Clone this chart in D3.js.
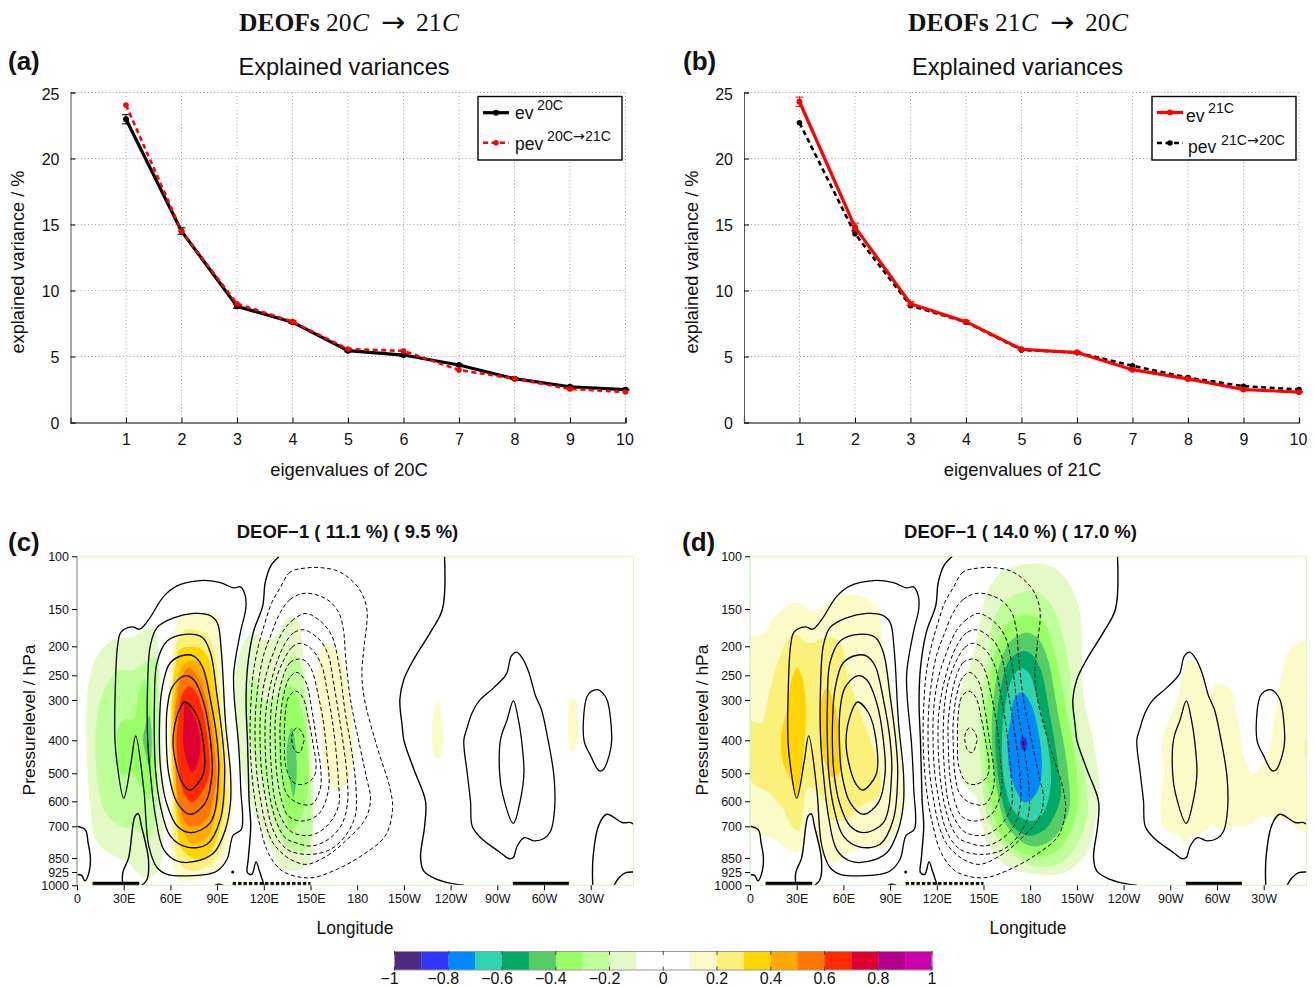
<!DOCTYPE html>
<html>
<head>
<meta charset="utf-8">
<script src="https://cdn.jsdelivr.net/npm/d3@7"></script>
<style>
  body { margin: 0; background: #fff; }
  text { font-family: "Liberation Sans", Arial, sans-serif; fill: #111; }
  text.serif { font-family: "Liberation Serif", serif; }
  tspan.arrow, text.arrow { font-family: "DejaVu Sans", sans-serif; }
</style>
</head>
<body>
<svg id="chart" width="1314" height="987"></svg>
<script>
// ---- explained variances
const eigenIndex = [1,2,3,4,5,6,7,8,9,10];
const ev20 = [22.97,14.5,8.8,7.6,5.44,5.11,4.36,3.32,2.71,2.49];
const pev20to21 = [24.05,14.5,9.0,7.64,5.57,5.42,3.98,3.32,2.54,2.31];
const err20 = [0.35,0.25,0.15,0.1,0.08,0.08,0.06,0.05,0.05,0.04];
const ev21 = [24.3,14.8,9.0,7.64,5.55,5.3,4.0,3.3,2.5,2.3];
const pev21to20 = [22.7,14.3,8.85,7.6,5.5,5.3,4.3,3.4,2.75,2.5];
const err21 = [0.35,0.3,0.15,0.1,0.08,0.08,0.06,0.05,0.05,0.04];
const varTicks = [0,5,10,15,20,25];

// ---- section axes
const pressureLevels = [100,150,200,250,300,400,500,600,700,850,925,1000];
const lonTicks = [0,30,60,90,120,150,180,210,240,270,300,330];
const lonLabels = ['0','30E','60E','90E','120E','150E','180','150W','120W','90W','60W','30W'];

// ---- colour bar
const barColors = ['#4f2a84','#3333ff','#0088ff','#30d5ab','#00aa66','#55cc66','#99ff66','#bfff99','#e4f9c6','#ffffff',
                   '#ffffff','#fbfbc8','#fbf07a','#ffd400','#ffaa00','#ff7700','#ff2a00','#dd0033','#b30090','#cc00aa'];
const barTicks = [-1,-0.8,-0.6,-0.4,-0.2,0,0.2,0.4,0.6,0.8,1];

// ---- mean field contours, [lon, hPa], same in (c) and (d)
const posClosed = [
  [[69,305],[64.3,340],[61.7,400],[63.4,468],[68.1,539],[72.4,560],[81,504],[81,400],[76,331]],
  [[69,251],[61,275],[57.9,323],[57.4,400],[58.9,500],[64.3,605],[72.9,652],[82.5,605],[86.8,500],[85.7,400],[81.4,307],[75,259]],
  [[69.6,215],[60,228],[54.6,278],[52.9,400],[54,500],[57.4,605],[64.3,699],[72.9,730],[85.7,685],[91,500],[90,400],[85.7,299],[80.4,234],[75,217]],
  [[69.6,184],[57.9,193],[51.4,228],[49.7,315],[49.7,400],[50.6,500],[53.6,619],[60,746],[70.7,798],[83.6,785],[92.1,672],[94.9,500],[93.6,400],[90,292],[85.7,211],[80.4,188]],
  [[75,156],[62,162],[51.4,175],[47.1,199],[45.4,265],[45.4,400],[47.1,500],[50.4,659],[55.7,810],[64.3,866],[75,870],[87.9,825],[95.4,714],[98.6,605],[98.6,500],[95.4,356],[92.6,205],[90,168],[84.6,158]],
  [[30,589],[25.7,468],[24.4,400],[24.6,278],[26.1,199],[28.3,181],[35.4,174],[40.3,177],[46.1,164],[55.7,138],[64.3,128],[79.3,123],[92.1,125],[100.7,130],[105,129],[108.2,138],[108.4,150],[105,181],[100.7,245],[101.1,299],[103.7,407],[105.2,557],[105.6,714],[100.3,743],[96.4,857],[90,920],[83.6,938],[57.9,938],[51.4,901],[46.1,793],[42.9,557],[37.7,389],[34.7,468]],
  [[282.4,210],[279,217],[275.8,248],[267.8,275],[258.6,301],[253.9,331],[250.3,373],[248.5,400],[250.7,500],[252.8,600],[253.9,700],[259.3,754],[272.1,825],[277.5,854],[280.3,848],[282.8,793],[287.5,754],[293.5,769],[300,758],[304.3,722],[306.8,632],[306.4,510],[302.1,389],[298.3,323],[294.6,292],[290.3,245],[286,220]],
  [[280.3,302],[276.4,348],[272.1,398],[271.5,500],[273.2,569],[280.3,688],[284.5,605],[287.1,500],[286,417],[283.9,356]],
  [[334.3,279],[328.9,287],[326.8,302],[325.7,400],[330,447],[335.3,492],[337.9,490],[341.8,447],[343.5,400],[340.7,302],[337.5,285]]
];
const posOpen = [
  [[29.4,1000],[29.4,929],[33.2,848],[37.3,659],[39.4,650],[41.4,699],[45.9,857],[45,967],[41.6,1000]],
  [[0,700],[5.4,717],[7.1,777],[8.6,849],[7.9,920],[5.1,975],[3,944],[0,939]],
  [[130,100],[124.5,109],[120.9,125],[119.3,147],[113.3,181],[109.5,238],[108.6,307],[109.5,400],[110.1,500],[110.6,600],[111.6,700],[110.1,850],[109.5,929],[112.3,938],[115,871],[117.2,920],[120.2,1000]],
  [[236.1,100],[234.8,150],[227.1,181],[216.4,222],[210,258],[207.4,299],[208.9,364],[210,400],[216.4,488],[223.9,600],[223.3,700],[220.7,848],[222.8,920],[231.4,967],[237.8,985],[248.5,1000]],
  [[331.3,1000],[331.5,848],[335.3,694],[340.3,652],[350.3,685],[355.7,685],[358,694]],
  [[345,1000],[348.2,958],[352.5,929],[357.5,925]],
  [[88.5,1000],[91,994],[94,1000]]
];
const negClosed = [
  [[141.2,369],[138.6,381],[138,400],[140.1,432],[142.9,437],[145.5,407],[145.9,396],[143.8,376]],
  [[140.6,282],[135.8,295],[133.7,340],[133.3,400],[134.1,478],[139.1,533],[145.5,539],[151.9,515],[153.6,478],[151.5,407],[148.7,348],[145.1,295]],
  [[141.2,245],[136.5,255],[132.6,292],[130.5,356],[130.5,400],[131.6,500],[134.8,574],[141.2,605],[150.8,612],[156.2,557],[156.6,488],[154.1,407],[150.8,323],[146.6,261]],
  [[142.3,222],[136.9,228],[132.6,251],[129.4,292],[127.3,356],[127.3,400],[128.3,500],[131.6,600],[135.8,659],[144.4,679],[155.1,652],[161.6,557],[160.5,440],[158.3,356],[155.1,292],[150.8,241],[146.6,225]],
  [[143.4,196],[138,202],[132.6,225],[127.9,258],[125.1,307],[124.1,400],[125.1,500],[127.3,600],[131.6,672],[138,727],[149.8,743],[160.5,699],[168,619],[168,533],[164.8,373],[160.5,278],[157.3,234],[150.8,205]],
  [[145.9,178],[139.1,182],[133.7,196],[128.3,228],[124.1,272],[121.3,331],[120.8,400],[121.9,500],[124.5,600],[128.3,685],[133.7,754],[140.1,777],[150.8,793],[161.6,761],[170.1,692],[173.8,605],[173.3,498],[169,356],[164.8,265],[161.6,217],[156.2,192]],
  [[146.8,156],[139.1,164],[132.6,179],[126.2,211],[120.8,258],[118,323],[117.6,400],[118.7,500],[121.5,600],[125.1,700],[130.5,777],[136.9,817],[149.8,833],[162.6,810],[172.3,746],[178.7,659],[179.3,557],[176.6,437],[172.3,331],[168,228],[163.7,186],[156.2,166]],
  [[146.6,135],[136.9,141],[130.5,155],[125.1,182],[119.8,216],[116.6,265],[114.8,323],[114.4,400],[115.5,500],[118.1,600],[121.5,700],[125.8,777],[132.6,833],[139.1,866],[147.8,884],[160.5,840],[171.4,777],[185.3,670],[188.6,592],[186.2,521],[182.1,427],[175.7,299],[172.5,217],[171.4,182],[168.2,155],[160.7,141]],
  [[147.6,111],[136.9,115],[130.5,130],[125.1,144],[120.8,168],[116.6,199],[113.3,245],[111.6,315],[111.2,400],[112.3,500],[114.4,600],[117.6,700],[121.9,810],[127.3,882],[133.7,929],[149.8,958],[166.9,911],[184,833],[198,746],[202.7,632],[201.2,557],[192.6,417],[184.7,299],[183,245],[184.5,199],[186.2,150],[180.8,130],[169.1,115],[158.3,111]]
];

// ---- orography strips along the bottom, lon
const stripSolid = [[10,40],[280,316]];
const stripDotted = [[100,150]];

// ---- shading of (c): value of the band, outline [lon, hPa]
const shadeC = [
  [-0.15,[[48.2,175],[40.7,182],[35.4,188],[23.6,191],[12.9,217],[7.5,265],[6,400],[8.6,619],[12.9,777],[25.7,848],[33.2,875],[42.9,958],[51.4,929],[54.6,840],[55.3,619],[53.6,278],[52.5,217],[50.4,179]]],
  [-0.25,[[50.4,220],[42.9,228],[35.4,242],[26.8,242],[19.3,268],[14.6,307],[11.8,400],[13.3,533],[18.2,645],[27.9,699],[39.6,722],[46.1,761],[50.4,659],[52.1,440],[52.5,278]]],
  [-0.35,[[45,255],[39.6,285],[36.4,348],[31.1,348],[26.8,365],[25.7,400],[28.9,510],[35.4,498],[40.7,545],[45.9,594],[49.3,557],[48.2,356]]],
  [-0.45,[[46.5,340],[43.9,365],[42.4,400],[43.9,437],[46.7,488],[48,407],[47.6,365]]],
  [0.15,[[75,154],[66.4,159],[63.2,175],[61.1,210],[58.9,278],[58.9,400],[60,600],[61.1,850],[63.2,929],[66.4,977],[75,967],[87.9,929],[95.4,840],[99,685],[100.5,600],[99.6,500],[96.4,356],[93.2,195],[91.1,159],[84.6,154]]],
  [0.25,[[73.9,177],[68.6,179],[64.3,193],[62.1,228],[60.6,299],[60,400],[61.1,557],[62.1,730],[64.3,848],[68.6,902],[75,920],[85.7,884],[92.1,810],[97.5,605],[96.4,468],[92.1,292],[87.9,205],[82.5,183]]],
  [0.35,[[72.9,201],[66.4,205],[63.2,234],[61.1,299],[60.6,400],[62.1,557],[64.3,685],[66.4,793],[75,854],[83.6,840],[91.1,730],[95.4,569],[93.2,440],[88.9,278],[84.6,222],[79.3,204]]],
  [0.45,[[72.9,225],[67.5,234],[63.9,272],[62.1,331],[62.1,400],[63.4,545],[66.4,685],[73.9,785],[83.6,754],[90,632],[92.1,533],[90,417],[86.1,292],[82.5,245],[78.2,229]]],
  [0.55,[[71.8,237],[66.9,255],[64.3,292],[62.6,356],[63.2,468],[65.4,605],[71.8,699],[82.5,679],[87.9,581],[89.6,498],[86.8,381],[82.5,292],[77.1,251]]],
  [0.65,[[71.8,272],[67.5,289],[65.4,340],[63.9,400],[65.4,488],[68.6,569],[73.9,605],[82.5,545],[85.3,488],[83.6,389],[79.3,307],[76.1,282]]],
  [0.75,[[69.6,307],[68.6,356],[68.1,400],[69.6,447],[73.9,498],[77.6,468],[79.3,407],[76.1,348]]],
  [-0.15,[[112.3,183],[106.9,196],[102.6,238],[101.6,307],[103.7,440],[109,557],[115.5,672],[123,777],[130.5,893],[140.1,920],[149.8,866],[151.5,685],[150.8,440],[146.6,245],[143.8,182],[142.3,166],[138,159],[133.7,166],[127.3,188],[120.8,193]]],
  [-0.25,[[113.3,251],[109,278],[109,340],[113.3,440],[119.8,533],[126.2,672],[134.8,793],[145.5,817],[150.8,730],[149.8,498],[146.6,292],[142.3,222],[138,214],[132.6,258],[125.1,299],[119.8,299]]],
  [-0.35,[[136.9,271],[132.6,292],[130.5,373],[129.4,447],[132.6,581],[136.9,722],[143.3,672],[148.7,533],[146.6,373],[142.3,299]]],
  [-0.45,[[138,369],[135.2,407],[134.8,468],[136.9,533],[139.1,587],[141.2,498],[140.1,407]]],
  [0.15,[[159.4,196],[155.1,234],[154.5,292],[157.3,389],[159.4,488],[166.9,563],[174.4,521],[178,407],[175.5,307],[170.1,222],[164.8,202]]],
  [0.15,[[232.3,300],[229.5,323],[228,400],[230.1,456],[232.3,455],[235.5,403],[233.8,330]]],
  [0.15,[[317.3,298],[315.6,398],[317.7,435],[320.3,428],[320.1,299]]]
];

// ---- shading of (d)
const shadeD = [
  [0.15,[[0,188],[8.6,185],[15,162],[28.9,144],[40.7,153],[57.9,137],[72.9,139],[82.5,150],[84.6,186],[91.1,278],[98.6,510],[100.3,605],[97.5,672],[85.7,801],[72.9,801],[64.3,825],[53.6,875],[43.9,810],[40.7,652],[38.1,652],[35.4,769],[30,825],[15,761],[0,699]]],
  [0.25,[[0,352],[7.5,358],[9.6,331],[13.9,265],[19.3,217],[27.9,184],[38.6,196],[49.3,188],[57.9,194],[62.1,245],[70.7,331],[83.6,498],[82.5,581],[72.9,612],[62.1,672],[52.5,672],[46.1,581],[37.5,551],[33.2,685],[31.1,722],[26.8,699],[21.4,632],[12.9,574],[0,521]]],
  [0.35,[[30.4,237],[26.8,258],[23.6,323],[19.7,400],[21.4,468],[26.8,533],[30,581],[33.2,488],[35.8,356],[35.4,292],[33.2,251]]],
  [0.35,[[49.3,275],[45.4,307],[44.6,373],[48.2,468],[53.6,515],[58.3,488],[57.9,389],[54.6,315]]],
  [-0.15,[[180,107],[162.8,114],[153.2,131],[147.8,168],[142.5,222],[135,285],[133.9,373],[137.1,533],[144.6,581],[153.2,793],[165,893],[184.3,938],[201.4,929],[216.4,825],[222.8,645],[224.5,545],[220.7,407],[214.3,292],[211.5,150],[203.6,123],[192.8,109]]],
  [-0.25,[[177.8,133],[166,140],[156.4,164],[153.2,217],[147.8,323],[147.8,447],[153.2,672],[162.8,793],[182.1,893],[201.4,866],[216.4,672],[216.4,557],[210,365],[201.4,190],[192.8,144],[185.3,135]]],
  [-0.35,[[176.8,158],[166,168],[158.6,199],[153.2,278],[151,400],[155.3,619],[162.8,761],[180,840],[197.1,817],[210,645],[210,498],[203.6,331],[195,205],[188.6,168]]],
  [-0.45,[[176.8,182],[167.1,194],[160.7,228],[156.4,299],[155.3,400],[158.6,557],[165,699],[180,793],[192.8,769],[204.6,645],[204,488],[198.2,340],[190.7,217],[184.3,188]]],
  [-0.55,[[175.7,208],[167.1,222],[161.8,265],[158.6,340],[157.5,400],[160.7,557],[167.1,685],[177.8,743],[189.6,714],[199.3,592],[198.2,488],[192.8,340],[186.4,238],[181,214]]],
  [-0.65,[[174,238],[168.2,258],[163.9,315],[161.8,400],[163.9,545],[170.3,645],[181,679],[188.6,645],[193.3,533],[190.7,397],[185.3,307],[178.9,245]]],
  [-0.75,[[174.6,285],[169.7,299],[167.6,348],[165.4,400],[168.2,521],[176.8,605],[184.3,569],[187.5,488],[185.3,381],[180,307]]],
  [-0.85,[[175.7,392],[173.6,402],[174.8,427],[176.6,432],[178.3,412],[177.4,396]]],
  [-0.95,[[174.8,402],[175.3,423],[177,417],[176.6,399]]],
  [0.15,[[282.8,224],[279,234],[275.3,292],[265,400],[265.7,500],[264,600],[264.6,696],[271,735],[275.3,738],[279,793],[281.8,754],[293.5,719],[296.8,692],[302.1,722],[308.5,706],[320.3,696],[326.8,665],[342.8,672],[358,730],[358,193],[347.1,205],[341.8,245],[337.5,331],[332.1,447],[323.5,500],[319.3,476],[312.8,340],[308.5,278],[300,267],[295.7,285],[291.4,258],[288.2,234]]],
  [0.25,[[358,382],[356.3,428],[358,458]]]
];

const svg = d3.select('#chart');

function label(x, y, str, size, opts) {
  opts = opts || {};
  const t = svg.append('text').attr('x', x).attr('y', y)
    .style('font-size', size + 'px')
    .attr('text-anchor', opts.anchor || 'start')
    .attr('font-weight', opts.weight || 'normal');
  // the arrow glyph of Liberation is too small, take it from DejaVu
  str.split(/(\u2192)/).forEach(part => {
    t.append('tspan').attr('class', part == '\u2192' ? 'arrow' : null).text(part);
  });
  if (opts.rotate) t.attr('transform', 'rotate(-90 ' + x + ' ' + y + ')');
  return t;
}

function serifText(x, str, opts) {
  svg.append('text').attr('class', 'serif').attr('x', x).attr('y', 31)
    .style('font-size', '25.5px')
    .attr('font-weight', opts.bold ? 'bold' : 'normal')
    .attr('font-style', opts.italic ? 'italic' : 'normal')
    .text(str);
}

function columnTitle(x, from, to) {
  serifText(x, 'DEOFs', {bold: true});
  serifText(x + 87, from, {});
  serifText(x + 113, 'C', {italic: true});
  svg.append('text').attr('class', 'arrow').attr('x', x + 142).attr('y', 32).style('font-size', '29px').text('\u2192');
  serifText(x + 177, to, {});
  serifText(x + 203, 'C', {italic: true});
}

// top panels
function variancePanel(dx, tag, firstSeries, firstErr, secondSeries, firstColor, secondColor, legendBox, txt) {
  const x = d3.scaleLinear().domain([0,10]).range([70.5 + dx, 625.5 + dx]);
  const y = d3.scaleLinear().domain([0,25]).range([422.5, 92.5]);
  const g = svg.append('g');

  // dotted grid
  g.append('g').selectAll('line').data(varTicks.slice(1)).join('line')
    .attr('x1', x(0)).attr('x2', x(10) + 1).attr('y1', d => y(d)).attr('y2', d => y(d))
    .attr('stroke', '#888').attr('stroke-width', 0.8).attr('stroke-dasharray', '1,2.5');
  g.append('g').selectAll('line').data(eigenIndex).join('line')
    .attr('x1', d => x(d)).attr('x2', d => x(d)).attr('y1', y(0)).attr('y2', y(25))
    .attr('stroke', '#888').attr('stroke-width', 0.8).attr('stroke-dasharray', '1,2.5');

  const xAxis = g.append('g').attr('transform', 'translate(0,' + y(0) + ')')
    .call(d3.axisBottom(x).tickValues(eigenIndex).tickSize(-5).tickPadding(11));
  const yAxis = g.append('g').attr('transform', 'translate(' + x(0) + ',0)')
    .call(d3.axisLeft(y).tickValues(varTicks).tickSize(-5).tickPadding(11));
  xAxis.selectAll('text').style('font-size', '16px').attr('dx', d => d == 10 ? -1 : 0);
  yAxis.selectAll('text').style('font-size', '16px').attr('dy', d => d == 25 ? '0.42em' : '0.38em');
  xAxis.select('.domain').attr('stroke-width', 1.2);
  yAxis.select('.domain').attr('stroke', '#555');

  const line = d3.line().x((d, i) => x(eigenIndex[i])).y(d => y(d));

  // dashed series goes under in (b), over in (a)
  function drawSecond() {
    g.append('path').attr('d', line(secondSeries)).attr('fill', 'none')
      .attr('stroke', secondColor).attr('stroke-width', 2.6).attr('stroke-dasharray', '5,3.5');
    g.append('g').selectAll('circle').data(secondSeries).join('circle')
      .attr('cx', (d, i) => x(eigenIndex[i])).attr('cy', d => y(d)).attr('r', 2.8).attr('fill', secondColor);
  }
  function drawFirst() {
    g.append('g').selectAll('path').data(firstSeries).join('path')
      .attr('d', (d, i) => {
        const cx = x(eigenIndex[i]);
        return 'M' + (cx - 4) + ',' + y(d + firstErr[i]) + 'H' + (cx + 4) + 'M' + cx + ',' + y(d + firstErr[i]) +
          'V' + y(d - firstErr[i]) + 'M' + (cx - 4) + ',' + y(d - firstErr[i]) + 'H' + (cx + 4);
      })
      .attr('stroke', firstColor).attr('stroke-width', 1).attr('fill', 'none');
    g.append('path').attr('d', line(firstSeries)).attr('fill', 'none')
      .attr('stroke', firstColor).attr('stroke-width', 3.2);
    g.append('g').selectAll('circle').data(firstSeries).join('circle')
      .attr('cx', (d, i) => x(eigenIndex[i])).attr('cy', d => y(d)).attr('r', 3).attr('fill', firstColor);
  }
  if (firstColor == 'red') { drawSecond(); drawFirst(); } else { drawFirst(); drawSecond(); }

  // legend
  g.append('rect').attr('x', legendBox[0]).attr('y', 96.5).attr('width', 144).attr('height', 63.5)
    .attr('fill', '#fff').attr('stroke', '#000').attr('stroke-width', 1.4);
  const lx = legendBox[0] + 5;
  const r1 = legendBox[1], r2 = legendBox[2];
  g.append('line').attr('x1', lx).attr('x2', lx + 26).attr('y1', r1).attr('y2', r1).attr('stroke', firstColor).attr('stroke-width', 3.2);
  g.append('circle').attr('cx', lx + 13).attr('cy', r1).attr('r', 3).attr('fill', firstColor);
  g.append('line').attr('x1', lx).attr('x2', lx + 26).attr('y1', r2).attr('y2', r2).attr('stroke', secondColor).attr('stroke-width', 2.6).attr('stroke-dasharray', '5,3.5');
  g.append('circle').attr('cx', lx + 13).attr('cy', r2).attr('r', 2.8).attr('fill', secondColor);
  txt.forEach(d => label(d[0], d[1], d[2], d[3]));

  label(344 + dx, 75, 'Explained variances', 23.6, {anchor: 'middle'});
  label(349 + dx, 476, 'eigenvalues of ' + tag, 18.4, {anchor: 'middle'});
  label(24 + dx, 262, 'explained variance / %', 18.2, {anchor: 'middle', rotate: true});
}

variancePanel(0, '20C', ev20, err20, pev20to21, '#000', 'red', [478, 112.7, 142.7],
  [[515,118.5,'ev',17.5],[537,110,'20C',14.2],[515,150,'pev',17.5],[547,141,'20C\u219221C',14.2]]);
variancePanel(673.5, '21C', ev21, err21, pev21to20, 'red', '#000', [1152, 112.5, 143],
  [[1186,122,'ev',17.5],[1208,113,'21C',14.2],[1188,153,'pev',17.5],[1221,145,'21C\u219220C',14.2]]);

// bottom panels
const fillColor = d3.scaleQuantize().domain([-1,1]).range(barColors);
let clipCount = 0;

function sectionPanel(x0, shades, title, leftColor) {
  const x = d3.scaleLinear().domain([0,357.5]).range([x0, x0 + 556.5]);
  const y = d3.scaleLinear().domain(pressureLevels)
    .range([556.3,609,646.3,675.3,700,740.3,773.3,801.3,826.3,858,872,885.3]);
  const g = svg.append('g');
  const id = 'clip' + (clipCount++);
  g.append('clipPath').attr('id', id).append('rect')
    .attr('x', x(0)).attr('y', y(100)).attr('width', x(357.5) - x(0)).attr('height', y(1000) - y(100));
  const plot = g.append('g').attr('clip-path', 'url(#' + id + ')');

  const closed = d3.line().x(d => x(d[0])).y(d => y(d[1])).curve(d3.curveCatmullRomClosed.alpha(0.5));
  const open = d3.line().x(d => x(d[0])).y(d => y(d[1])).curve(d3.curveCatmullRom.alpha(0.5));

  plot.append('g').selectAll('path').data(shades).join('path')
    .attr('d', d => closed(d[1])).attr('fill', d => fillColor(d[0]));

  plot.append('g').selectAll('path').data(negClosed).join('path')
    .attr('d', closed).attr('fill', 'none').attr('stroke', '#000')
    .attr('stroke-width', 1).attr('stroke-dasharray', '4,2.6');
  plot.append('g').selectAll('path').data(posClosed).join('path')
    .attr('d', closed).attr('fill', 'none').attr('stroke', '#000').attr('stroke-width', 1.3);
  plot.append('g').selectAll('path').data(posOpen).join('path')
    .attr('d', open).attr('fill', 'none').attr('stroke', '#000').attr('stroke-width', 1.4);

  // orography strips
  g.append('g').selectAll('line').data(stripSolid).join('line')
    .attr('x1', d => x(d[0])).attr('x2', d => x(d[1])).attr('y1', 883.8).attr('y2', 883.8)
    .attr('stroke', '#000').attr('stroke-width', 4);
  g.append('g').selectAll('line').data(stripDotted).join('line')
    .attr('x1', d => x(d[0])).attr('x2', d => x(d[1])).attr('y1', 883.8).attr('y2', 883.8)
    .attr('stroke', '#000').attr('stroke-width', 3.6).attr('stroke-dasharray', '3.4,2');
  g.append('circle').attr('cx', x(100)).attr('cy', y(925)).attr('r', 1.5).attr('fill', '#000');

  // frame
  g.append('rect').attr('x', x(0)).attr('y', y(100)).attr('width', x(357.5) - x(0)).attr('height', y(1000) - y(100))
    .attr('fill', 'none').attr('stroke', '#d2f5c4').attr('stroke-width', 1);
  g.append('line').attr('x1', x(0)).attr('x2', x(0)).attr('y1', y(100)).attr('y2', y(1000))
    .attr('stroke', leftColor).attr('stroke-width', 1);

  const xAxis = g.append('g').attr('transform', 'translate(0,' + y(1000) + ')')
    .call(d3.axisBottom(x).tickValues(lonTicks).tickFormat((d, i) => lonLabels[i]).tickSize(5).tickPadding(4));
  const yAxis = g.append('g').attr('transform', 'translate(' + x(0) + ',0)')
    .call(d3.axisLeft(y).tickValues(pressureLevels).tickFormat(d => d).tickSize(5).tickPadding(3));
  xAxis.select('.domain').remove();
  yAxis.select('.domain').remove();
  xAxis.selectAll('text').style('font-size', '12.5px');
  yAxis.selectAll('text').style('font-size', '12.5px');

  label(x0 + 270.5, 538, title, 18.5, {anchor: 'middle', weight: 'bold'});
  label(x0 + 278, 934, 'Longitude', 17.5, {anchor: 'middle'});
  label(x0 - 42, 720, 'Pressurelevel / hPa', 17.4, {anchor: 'middle', rotate: true});
}

sectionPanel(77, shadeC, 'DEOF\u22121 ( 11.1 %) ( 9.5 %)', '#8a8a80');
sectionPanel(750, shadeD, 'DEOF\u22121 ( 14.0 %) ( 17.0 %)', '#d2f5c4');

columnTitle(239, '20', '21');
columnTitle(908, '21', '20');
label(8, 70, '(a)', 26, {weight: 'bold'});
label(683, 70, '(b)', 26, {weight: 'bold'});
label(8, 551, '(c)', 26, {weight: 'bold'});
label(682, 551, '(d)', 26, {weight: 'bold'});

// colour bar
const barX = d3.scaleLinear().domain([-1,1]).range([394.5, 932]);
const bins = d3.range(20).map(i => -1 + i * 0.1);
svg.append('g').selectAll('rect').data(bins).join('rect')
  .attr('x', d => barX(d)).attr('y', 951.5).attr('width', barX(0.1) - barX(0) + 0.3).attr('height', 18.5)
  .attr('fill', (d, i) => barColors[i]);
svg.append('rect').attr('x', barX(-1)).attr('y', 951.5).attr('width', barX(1) - barX(-1)).attr('height', 18.5)
  .attr('fill', 'none').attr('stroke', '#999').attr('stroke-width', 1);
svg.append('g').selectAll('path').data(barTicks).join('path')
  .attr('d', d => 'M' + barX(d) + ',951V955M' + barX(d) + ',966.5V970.5')
  .attr('stroke', '#444').attr('stroke-width', 1);
// negative labels sit a little left of their tick in the original
svg.append('g').selectAll('text').data(barTicks).join('text')
  .attr('x', d => barX(d) - (d < 0 ? 5 : 0)).attr('y', 984).attr('text-anchor', 'middle')
  .style('font-size', '16px')
  .text(d => d == 0 ? '0' : d3.format('')(d).replace('-', '\u2212'));
</script>
</body>
</html>
